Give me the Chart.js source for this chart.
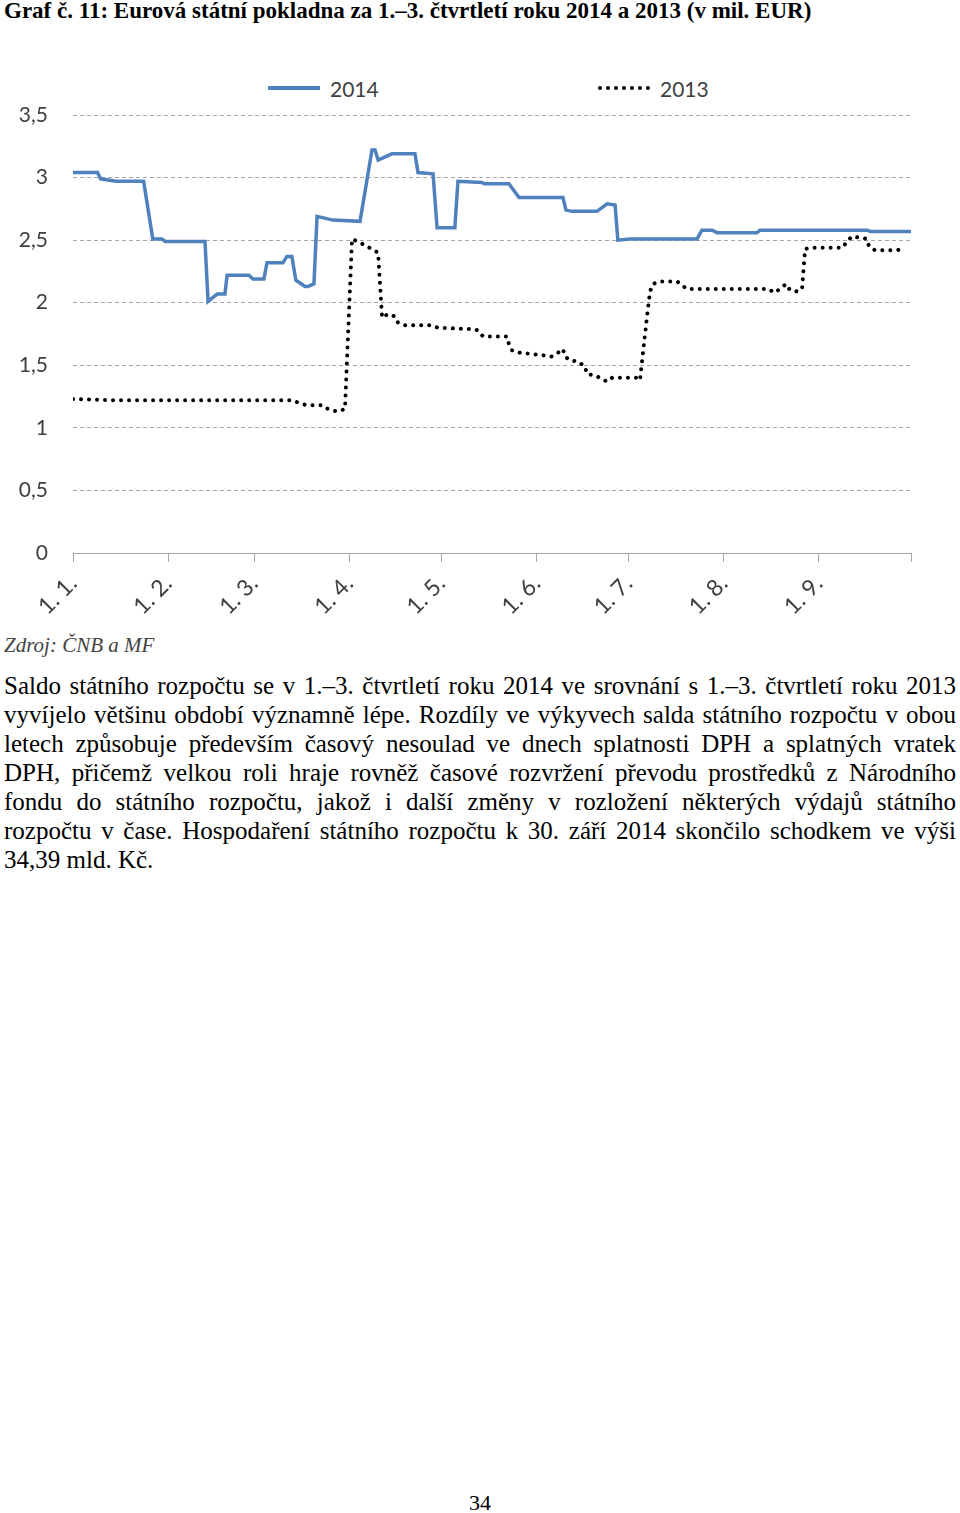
<!DOCTYPE html>
<html lang="cs">
<head>
<meta charset="utf-8">
<script src="https://cdn.jsdelivr.net/npm/chart.js@4.4.1/dist/chart.umd.min.js"></script>
<style>
  body { margin: 0; width: 960px; height: 1513px; background: #fff; position: relative;
         font-family: "Liberation Serif", "Times New Roman", serif; color: #000; overflow: hidden; }
  #title { position: absolute; left: 4px; top: -2px; font-weight: bold; font-size: 23px; white-space: nowrap; }
  #legend { position: absolute; top: 76px; left: 0; width: 960px; height: 24px;
            font-family: Lato, sans-serif; font-size: 21px; color: #404040; }
  .item { position: absolute; top: 0; height: 24px; display: flex; align-items: center; }
  .sw { width: 52px; margin-right: 10px; }
  .sw.solid { height: 4px; background: #4F81BD; }
  .sw.dots { height: 0; border-top: 4px dotted #000; }
  #chartBox { position: absolute; left: 0; top: 60px; width: 960px; height: 563px; }
  #source { position: absolute; left: 4px; top: 633px; font-style: italic; font-size: 21px; color: #444; }
  #text { position: absolute; left: 4px; top: 671px; width: 952px; font-size: 25px; line-height: 29px; }
  #text div { text-align: justify; text-align-last: justify; white-space: nowrap; }
  #text div.last { text-align-last: left; }
  #page { position: absolute; top: 1490px; left: 0; width: 960px; text-align: center; font-size: 22px; }
</style>
</head>
<body>
<div id="title">Graf č. 11: Eurová státní pokladna za 1.–3. čtvrtletí roku 2014 a 2013 (v mil. EUR)</div>
<div id="legend">
  <div class="item" style="left:268px"><div class="sw solid"></div>2014</div>
  <div class="item" style="left:598px"><div class="sw dots"></div>2013</div>
</div>
<div id="chartBox"><canvas id="chart"></canvas></div>
<div id="source">Zdroj: ČNB a MF</div>
<div id="text">
  <div>Saldo státního rozpočtu se v 1.–3. čtvrtletí roku 2014 ve srovnání s 1.–3. čtvrtletí roku 2013</div>
  <div>vyvíjelo většinu období významně lépe. Rozdíly ve výkyvech salda státního rozpočtu v obou</div>
  <div>letech způsobuje především časový nesoulad ve dnech splatnosti DPH a splatných vratek</div>
  <div>DPH, přičemž velkou roli hraje rovněž časové rozvržení převodu prostředků z Národního</div>
  <div>fondu do státního rozpočtu, jakož i další změny v rozložení některých výdajů státního</div>
  <div>rozpočtu v čase. Hospodaření státního rozpočtu k 30. září 2014 skončilo schodkem ve výši</div>
  <div class="last">34,39 mld. Kč.</div>
</div>
<div id="page">34</div>

<script>
// axis: days since 1. 1., ticks at the first day of each month
const monthStarts = [0, 31, 59, 90, 120, 151, 181, 212, 243, 273];
const monthLabels = ['1. 1.', '1. 2.', '1. 3.', '1. 4.', '1. 5.', '1. 6.', '1. 7.', '1. 8.', '1. 9.', ''];
const yTicks = [0, 0.5, 1, 1.5, 2, 2.5, 3, 3.5];

// 2014 (mil. EUR)
const days2014 = [0, 8, 9, 14, 23, 26, 29, 30, 43, 44, 47, 49.5, 50.2, 57.3, 58.6, 62.2, 63.2, 68.4, 69.7, 71.3,
  72.6, 75.6, 76.6, 78.5, 79.5, 84.7, 93.5, 97.4, 98.4, 99.4, 103.9, 111.4, 112.4, 117.3, 118.6, 124.4, 125.4,
  133.2, 134.2, 142, 145.3, 159.6, 160.6, 162.6, 170.7, 174, 176.6, 177.5, 181.4, 203.3, 204.9, 208.2, 209.8,
  222.8, 223.8, 258.7, 259.7, 273];
const values2014 = [3.04, 3.04, 2.99, 2.97, 2.97, 2.51, 2.51, 2.49, 2.49, 2.01, 2.07, 2.07, 2.22, 2.22, 2.19, 2.19,
  2.32, 2.32, 2.37, 2.37, 2.18, 2.13, 2.13, 2.15, 2.69, 2.66, 2.65, 3.22, 3.22, 3.14, 3.19, 3.19, 3.04, 3.03,
  2.60, 2.60, 2.97, 2.96, 2.95, 2.95, 2.84, 2.84, 2.74, 2.73, 2.73, 2.79, 2.78, 2.50, 2.51, 2.51, 2.58, 2.58,
  2.56, 2.56, 2.58, 2.58, 2.57, 2.57];

// 2013 (mil. EUR)
const days2013 = [0, 15.3, 71.3, 73.6, 76.2, 81.4, 83.1, 86, 88.6, 90.9, 95.1, 99.4, 100.7, 102.6, 104.9, 105.9,
  108.2, 116.3, 118.9, 129.3, 131.9, 133.6, 141.4, 142, 143, 145.6, 153.1, 156, 158, 159.6, 160.3, 161.9, 164.5,
  166.8, 167.4, 170, 172.3, 174, 175.6, 183.7, 184.7, 187, 188, 188.9, 191.2, 196.8, 200, 226.4, 228.7, 232.3,
  233.6, 235.9, 237.5, 238.5, 240.7, 250.8, 252.1, 253.8, 258.6, 259.3, 261.2, 268.7, 271.3];
const values2013 = [1.23, 1.22, 1.22, 1.20, 1.18, 1.18, 1.15, 1.13, 1.15, 2.51, 2.46, 2.40, 1.88, 1.91, 1.89, 1.84,
  1.82, 1.82, 1.80, 1.79, 1.78, 1.73, 1.73, 1.67, 1.62, 1.60, 1.58, 1.57, 1.60, 1.63, 1.57, 1.54, 1.53, 1.49,
  1.43, 1.42, 1.39, 1.37, 1.40, 1.40, 1.38, 1.89, 2.09, 2.15, 2.17, 2.17, 2.11, 2.11, 2.08, 2.15, 2.10, 2.09,
  2.11, 2.43, 2.44, 2.44, 2.49, 2.53, 2.51, 2.45, 2.42, 2.42, 2.44];

const toPoints = (days, values) => days.map((d, i) => ({ x: d, y: values[i] }));

const gridColor = '#a6a6a6';

new Chart(document.getElementById('chart'), {
  type: 'line',
  data: {
    datasets: [
      {
        label: '2014',
        data: toPoints(days2014, values2014),
        borderColor: '#4F81BD',
        borderWidth: 3.5,
        pointRadius: 0,
        tension: 0
      },
      {
        label: '2013',
        data: toPoints(days2013, values2013),
        borderColor: '#000000',
        borderWidth: 4,
        borderDash: [0.01, 8],
        borderCapStyle: 'round',
        pointRadius: 0,
        tension: 0
      }
    ]
  },
  options: {
    responsive: true,
    maintainAspectRatio: false,
    animation: false,
    devicePixelRatio: 1,
    layout: { padding: { top: 55, right: 49, left: 0, bottom: 0 } },
    plugins: {
      legend: { display: false },
      tooltip: { enabled: false }
    },
    scales: {
      x: {
        type: 'linear',
        min: 0,
        max: 273,
        afterBuildTicks: scale => { scale.ticks = monthStarts.map(v => ({ value: v })); },
        afterFit: scale => { scale.height = 70; },
        ticks: {
          autoSkip: false,
          minRotation: 45,
          maxRotation: 45,
          padding: 8,
          font: { family: 'Lato', size: 23 },
          color: '#404040',
          callback: (value, index) => monthLabels[index]
        },
        grid: { drawOnChartArea: false, drawTicks: true, tickLength: 9, color: gridColor },
        border: { display: true, color: gridColor, width: 1 }
      },
      y: {
        min: 0,
        max: 3.5,
        afterBuildTicks: scale => { scale.ticks = yTicks.map(v => ({ value: v })); },
        afterFit: scale => { scale.width = 73; },
        ticks: {
          padding: 25,
          font: { family: 'Lato', size: 21 },
          color: '#404040',
          callback: value => String(value).replace('.', ',')
        },
        grid: {
          drawTicks: false,
          color: ctx => (ctx.tick && ctx.tick.value === 0 ? 'rgba(0,0,0,0)' : gridColor)
        },
        border: { display: false, dash: [4, 3] }
      }
    }
  }
});
</script>
</body>
</html>
